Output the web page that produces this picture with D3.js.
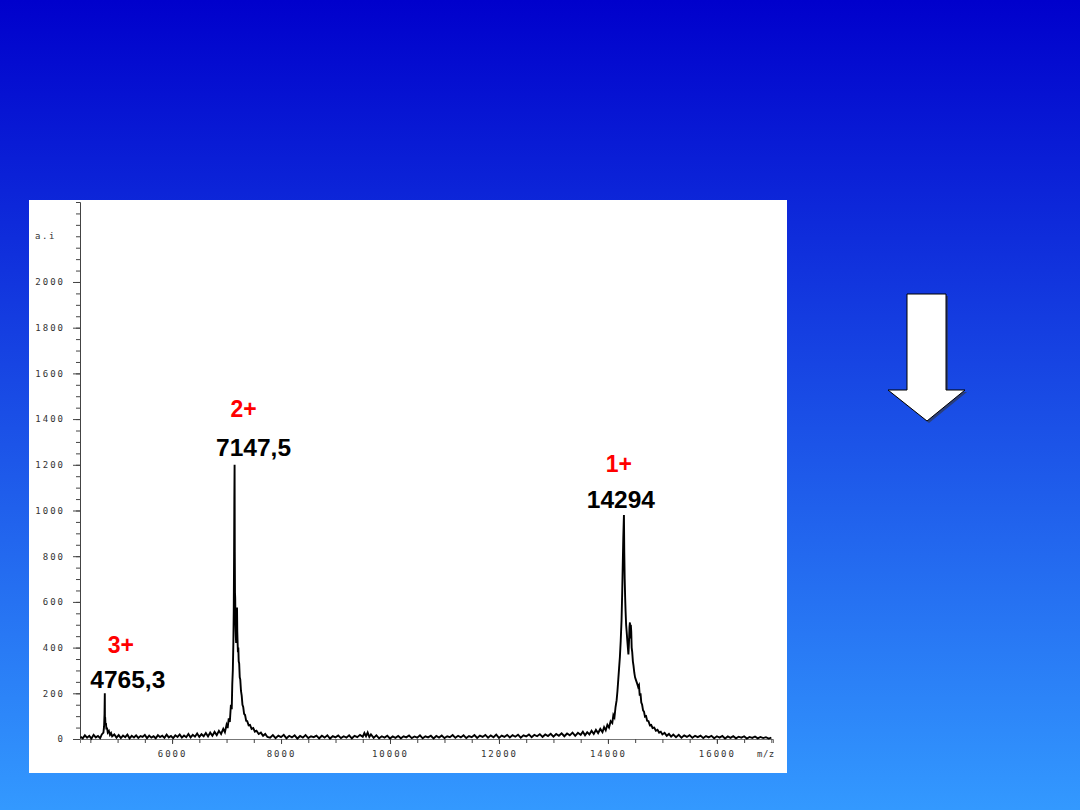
<!DOCTYPE html>
<html>
<head>
<meta charset="utf-8">
<script src="https://cdn.jsdelivr.net/npm/d3@7"></script>
<style>
  html, body { margin: 0; padding: 0; }
  svg { display: block; }
</style>
</head>
<body>
<svg width="1080" height="810"></svg>
<script>
// m/z, intensity (a.i)
const spectrum = [
  [4320,10],[4360,3],[4400,16],[4440,6],[4480,14],[4520,2],[4560,18],[4600,7],[4640,13],[4680,4],[4710,20],[4740,28],
  [4752,55],[4760,110],[4765.3,200],[4768,80],[4772,95],[4778,62],[4786,70],[4795,42],[4805,50],[4820,28],[4840,35],[4860,18],[4880,26],[4900,12],
  [4940,20],[4980,6],[5020,17],[5060,4],[5100,15],[5140,8],[5180,19],[5220,3],[5260,14],[5300,7],[5340,16],[5380,5],[5420,13],[5460,9],
  [5500,18],[5540,4],[5580,15],[5620,6],[5660,12],[5700,3],[5740,17],[5780,8],[5820,14],[5860,5],[5900,19],[5940,7],[5980,13],[6020,4],
  [6060,16],[6100,9],[6140,20],[6180,6],[6220,15],[6260,8],[6300,22],[6340,7],[6380,18],[6420,10],[6460,24],[6500,9],[6540,21],[6580,12],
  [6620,26],[6660,11],[6700,28],[6740,14],[6780,31],[6820,17],[6860,36],[6900,22],[6940,45],[6970,30],[7000,62],[7020,48],[7040,90],[7060,75],
  [7080,150],[7095,130],[7105,240],[7115,300],[7125,420],[7132,560],[7138,800],[7143,1050],[7147.5,1200],[7151,820],[7155,640],[7159,615],
  [7164,500],[7170,450],[7176,420],[7182,480],[7187,560],[7192,575],[7197,470],[7203,420],[7209,380],[7216,400],[7223,340],[7232,330],
  [7242,270],[7252,260],[7265,210],[7278,190],[7292,150],[7306,140],[7322,110],[7340,105],[7360,80],[7380,78],[7405,60],[7430,62],
  [7460,44],[7490,48],[7520,32],[7550,36],[7590,22],[7630,28],[7670,14],[7710,22],[7750,9],
  [7800,6],[7850,17],[7900,4],[7950,15],[8000,8],[8050,18],[8100,3],[8150,14],[8200,7],[8250,16],[8300,2],[8350,13],[8400,6],[8450,17],
  [8500,4],[8550,12],[8600,8],[8650,15],[8700,3],[8750,14],[8800,6],[8850,16],[8900,2],[8950,13],[9000,7],[9050,15],[9100,4],[9150,12],
  [9200,6],[9250,16],[9300,3],[9350,14],[9400,8],[9450,18],[9500,10],[9530,26],[9560,12],[9590,28],[9620,9],[9650,20],[9700,5],[9750,16],
  [9800,3],[9850,12],[9900,6],[9950,14],[10000,2],[10050,11],[10100,5],[10150,13],[10200,3],[10250,12],[10300,7],[10350,15],[10400,4],
  [10450,11],[10500,6],[10550,16],[10600,3],[10650,12],[10700,7],[10750,14],[10800,2],[10850,13],[10900,6],[10950,15],[11000,4],[11050,12],
  [11100,8],[11150,17],[11200,5],[11250,14],[11300,7],[11350,16],[11400,4],[11450,13],[11500,8],[11550,17],[11600,5],[11650,15],[11700,9],
  [11750,18],[11800,6],[11850,16],[11900,8],[11950,19],[12000,5],[12050,15],[12100,9],[12150,18],[12200,7],[12250,17],[12300,10],[12350,19],
  [12400,6],[12450,16],[12500,11],[12550,20],[12600,8],[12650,18],[12700,12],[12750,21],[12800,9],[12850,20],[12900,13],[12950,23],[13000,10],
  [13050,22],[13100,14],[13150,25],[13200,12],[13250,24],[13300,16],[13350,28],[13400,14],[13450,27],[13500,18],[13540,32],[13580,16],
  [13620,30],[13660,20],[13700,36],[13740,22],[13780,40],[13820,26],[13860,44],[13900,30],[13930,52],[13960,38],[13990,62],[14020,50],
  [14050,78],[14080,70],[14100,105],[14120,95],[14140,140],[14160,170],[14175,210],[14190,260],[14205,310],[14220,360],[14235,430],
  [14250,520],[14262,640],[14272,760],[14282,880],[14290,950],[14294,980],[14300,820],[14308,700],[14316,620],[14324,560],[14334,500],
  [14344,470],[14356,430],[14366,400],[14376,370],[14386,420],[14396,490],[14404,510],[14412,440],[14420,500],[14428,470],[14436,400],
  [14446,380],[14458,340],[14470,320],[14484,290],[14498,270],[14512,260],[14526,250],[14540,240],[14555,228],[14570,235],[14584,190],
  [14598,200],[14612,160],[14628,150],[14645,125],[14662,120],[14680,98],[14700,100],[14720,80],[14745,78],[14770,60],[14795,62],
  [14820,48],[14850,50],[14880,36],[14910,40],[14940,28],[14970,32],[15000,20],[15040,27],[15080,14],[15120,22],[15160,10],[15200,19],
  [15250,8],[15300,18],[15350,6],[15400,16],[15450,9],[15500,17],[15550,5],[15600,14],[15650,8],[15700,15],[15750,4],[15800,13],
  [15850,7],[15900,14],[15950,3],[16000,12],[16050,6],[16100,13],[16150,2],[16200,11],[16250,5],[16300,12],[16350,3],[16400,10],
  [16450,6],[16500,12],[16550,2],[16600,9],[16650,5],[16700,11],[16750,3],[16800,9],[16850,4],[16900,8],[16950,2],[17000,6]
];

const peakMz = [4765.3, 7147.5, 14294];
const peakLabels = ["4765,3", "7147,5", "14294"];
const chargeLabels = ["3+", "2+", "1+"];
const peakTops = [200, 1200, 980];

const yMajorTicks = [0, 200, 400, 600, 800, 1000, 1200, 1400, 1600, 1800, 2000];
const xMajorTicks = [6000, 8000, 10000, 12000, 14000, 16000];

const svg = d3.select("svg");
const width = +svg.attr("width");
const height = +svg.attr("height");

const defs = svg.append("defs");
const grad = defs
  .append("linearGradient")
  .attr("id", "bg")
  .attr("x1", 0)
  .attr("y1", 0)
  .attr("x2", 0)
  .attr("y2", 1);
grad.append("stop").attr("offset", "0%").attr("stop-color", "#0000cc");
grad.append("stop").attr("offset", "100%").attr("stop-color", "#3399ff");

svg
  .append("rect")
  .attr("width", width)
  .attr("height", height)
  .attr("fill", "url(#bg)");

svg
  .append("rect")
  .attr("x", 29)
  .attr("y", 200)
  .attr("width", 758)
  .attr("height", 573)
  .attr("fill", "#fff");

const x = d3.scaleLinear().domain([4310, 17030]).range([80, 773]);
const y = d3.scaleLinear().domain([0, 2350]).range([739, 202]);

const tickFont = (sel) =>
  sel
    .selectAll("text")
    .attr("font-family", "DejaVu Sans Mono, monospace")
    .attr("font-size", 9)
    .attr("letter-spacing", 2)
    .attr("fill", "#333");

// y axis: minor every 50, labelled every 200
svg
  .append("g")
  .attr("transform", "translate(80,0)")
  .call(d3.axisLeft(y).tickValues(d3.range(0, 2351, 50)).tickSize(4).tickFormat(""))
  .call((g) => g.selectAll("line").attr("stroke", "#444"))
  .call((g) => g.select(".domain").attr("stroke", "#444"));

svg
  .append("g")
  .attr("transform", "translate(80,0)")
  .call(d3.axisLeft(y).tickValues(yMajorTicks).tickSize(7).tickPadding(8).tickFormat(d3.format("d")))
  .call((g) => g.select(".domain").remove())
  .call((g) => g.selectAll("line").attr("stroke", "#444"))
  .call(tickFont);

svg
  .append("text")
  .attr("x", 35)
  .attr("y", y(2200) + 3)
  .attr("font-family", "DejaVu Sans Mono, monospace")
  .attr("font-size", 9)
  .attr("letter-spacing", 1.6)
  .attr("fill", "#333")
  .text("a.i");

// x axis
svg
  .append("g")
  .attr("transform", "translate(0,739)")
  .call(d3.axisBottom(x).tickValues(d3.range(4500, 17001, 500)).tickSize(4).tickFormat(""))
  .call((g) => g.selectAll("line").attr("stroke", "#444"))
  .call((g) => g.select(".domain").attr("stroke", "#777"));

svg
  .append("g")
  .attr("transform", "translate(0,739)")
  .call(d3.axisBottom(x).tickValues(xMajorTicks).tickSize(5).tickPadding(7).tickFormat(d3.format("d")))
  .call((g) => g.select(".domain").remove())
  .call((g) => g.selectAll("line").attr("stroke", "#444"))
  .call(tickFont);

svg
  .append("text")
  .attr("x", 757)
  .attr("y", 757)
  .attr("font-family", "DejaVu Sans Mono, monospace")
  .attr("font-size", 9)
  .attr("letter-spacing", 0.5)
  .attr("fill", "#333")
  .text("m/z");

const line = d3
  .line()
  .x((d) => x(d[0]))
  .y((d) => y(d[1]));

svg
  .append("path")
  .datum(spectrum)
  .attr("d", line)
  .attr("fill", "none")
  .attr("stroke", "#000")
  .attr("stroke-width", 1.9)
  .attr("stroke-linejoin", "miter");

// peak annotations
const ann = svg
  .selectAll("g.peak")
  .data(peakMz)
  .join("g")
  .attr("class", "peak")
  .attr("font-family", "Liberation Sans, Arial, sans-serif")
  .attr("font-weight", "bold")
  .attr("text-anchor", "middle");

ann
  .append("text")
  .attr("x", (d, i) => x(d) + [23, 19, -3][i])
  .attr("y", (d, i) => y(peakTops[i]) - [5, 9, 7][i])
  .attr("font-size", 24.5)
  .attr("fill", "#000")
  .text((d, i) => peakLabels[i]);

ann
  .append("text")
  .attr("x", (d, i) => x(d) + [16, 9, -5][i])
  .attr("y", (d, i) => y(peakTops[i]) - [40, 48, 43][i])
  .attr("font-size", 23)
  .attr("fill", "#ff0000")
  .text((d, i) => chargeLabels[i]);

// down arrow on the right
const arrow = [
  [907, 294], [946, 294], [946, 390], [965, 390], [927, 421], [888, 390], [907, 390]
];
svg
  .append("path")
  .attr("d", d3.line()(arrow) + "Z")
  .attr("transform", "translate(2,2)")
  .attr("fill", "#333")
  .attr("opacity", 0.6);
svg
  .append("path")
  .attr("d", d3.line()(arrow) + "Z")
  .attr("fill", "#fff")
  .attr("stroke", "#000")
  .attr("stroke-width", 1);
</script>
</body>
</html>
